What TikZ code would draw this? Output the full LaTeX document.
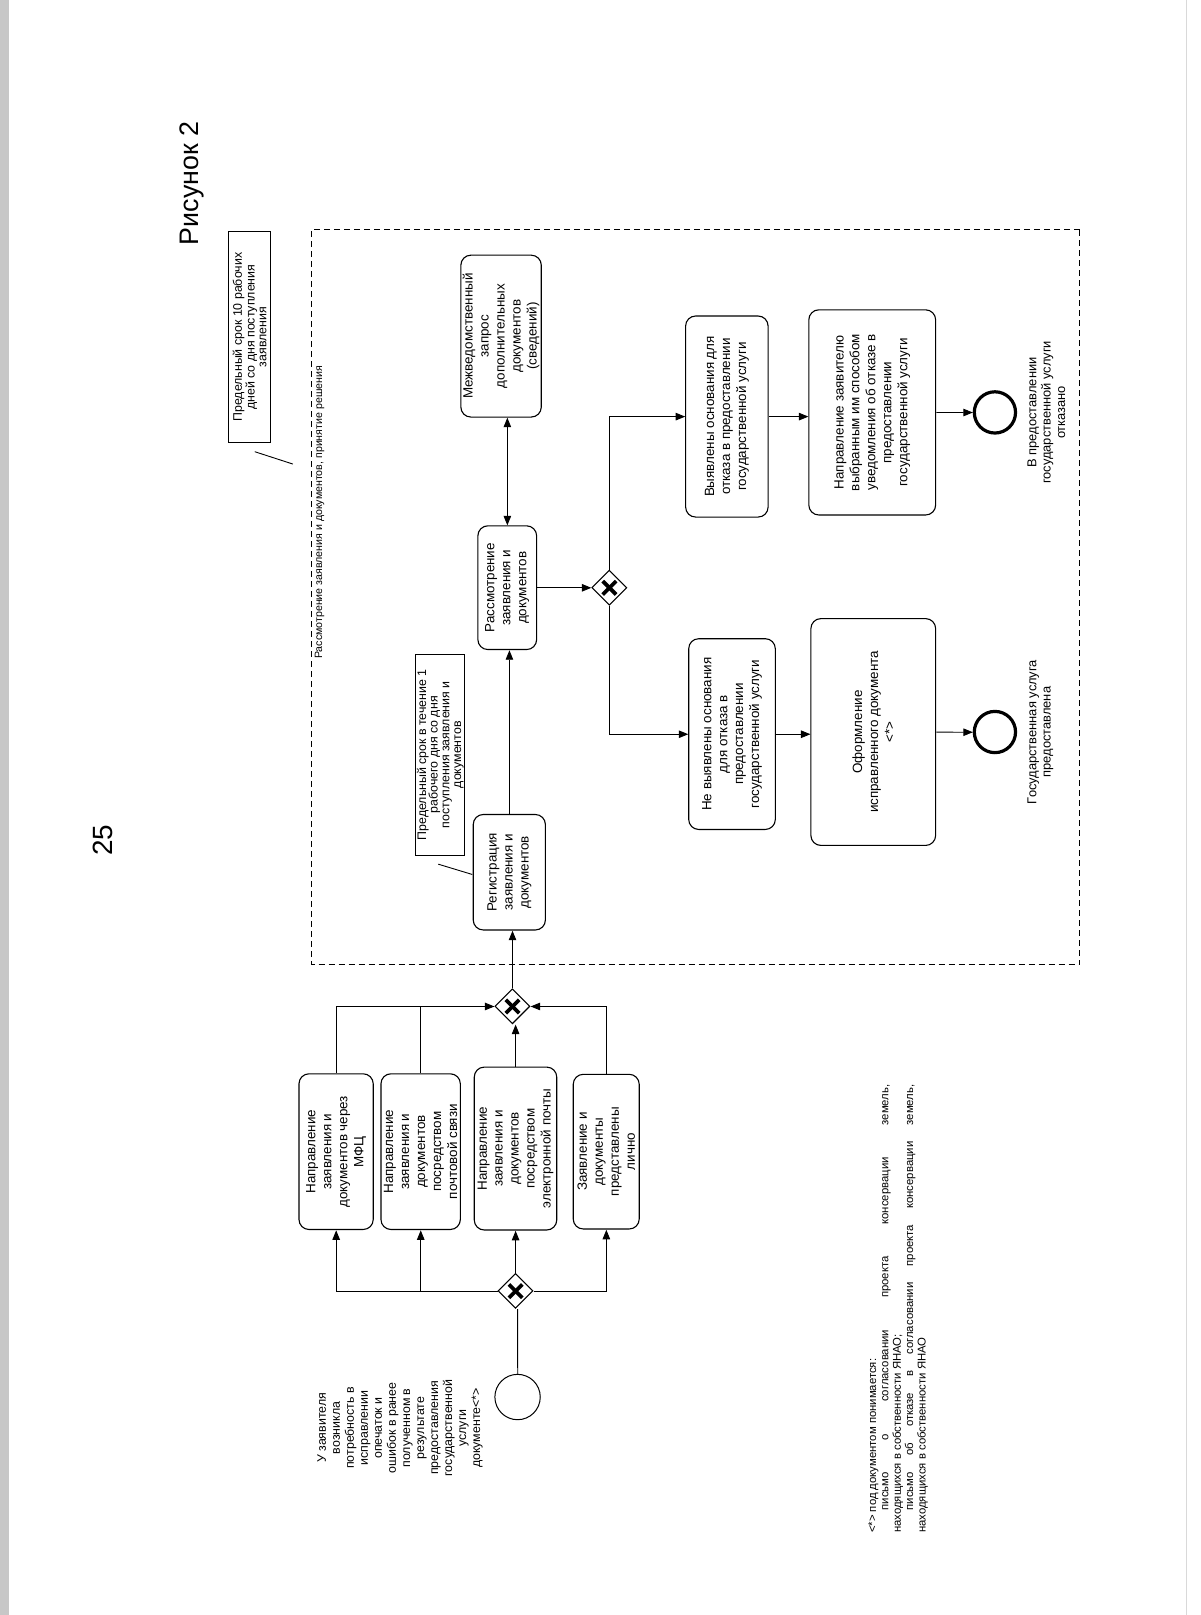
\documentclass[tikz,border=0pt]{standalone}
\usepackage{fontspec}
\setmainfont{Liberation Sans}
\usetikzlibrary{arrows.meta,shapes.geometric}
\begin{document}
\begin{tikzpicture}[x=1pt,y=-1pt,
  box/.style={draw, rounded corners=10pt, rotate=90, align=center, line width=1.1pt, inner sep=0pt, font=\fontsize{13}{15.5}\selectfont},
  note/.style={draw, rotate=90, align=center, line width=0.9pt, inner sep=1pt, font=\fontsize{12}{11.3}\selectfont},
  gw/.style={diamond, draw, line width=1.1pt, minimum size=34pt, inner sep=0pt},
  xmark/.style={line width=3.8pt},
  arr/.style={-{Triangle[length=9.5pt,width=7.5pt]}, line width=0.9pt},
  arrr/.style={{Triangle[length=9.5pt,width=7.5pt]}-{Triangle[length=9.5pt,width=7.5pt]}, line width=0.9pt},
  conn/.style={line width=0.9pt},
  lbl/.style={rotate=90, align=center, font=\fontsize{12.5}{14}\selectfont},
  startev/.style={circle, draw, line width=1pt, minimum size=44pt, inner sep=0pt},
  endev/.style={circle, draw, line width=3.2pt, minimum size=40pt, inner sep=0pt},
]
\useasboundingbox (0,0) rectangle (1200,1615);
\fill[black!22] (0,0) rectangle (9,1615);
\draw[black!15, line width=1pt] (1186,0) -- (1186,1615);

\begin{scope}[scale=1.031, transform shape]
% headings
\node[rotate=90, font=\fontsize{27}{31}\selectfont] (pg) at (100,815) {25};
\node[rotate=90, font=\fontsize{26}{30}\selectfont] (fig) at (186,178) {Рисунок 2};

% dashed area
\node[draw, dash pattern=on 6pt off 4pt, line width=1pt, minimum width=745pt, minimum height=713pt, anchor=north west, inner sep=0pt] (area) at (302,222) {};
\node[rotate=90, font=\fontsize{10.3}{12}\selectfont] (arealbl) at (310,497) {Рассмотрение заявления и документов, принятие решения};

% notes
\node[note, minimum width=205pt, minimum height=40pt] (note1) at (242,327) {Предельный срок 10 рабочих\\ дней со дня поступления\\ заявления};
\coordinate (n1a) at (247,438);
\coordinate (n1b) at (284,450);
\draw[conn] (n1a) -- (n1b);
\node[note, minimum width=195pt, minimum height=45pt] (note2) at (427,732) {Предельный срок в течение 1\\ рабочего дня со дня\\ поступления заявления и\\ документов};
\coordinate (n2a) at (425,838);
\coordinate (n2b) at (458,848);
\draw[conn] (n2a) -- (n2b);

% start
\node[startev] (start) at (502,1355) {};
\node[lbl, font=\fontsize{12}{13.6}\selectfont] (starttxt) at (388,1385) {У заявителя\\ возникла\\ потребность в\\ исправлении\\ опечаток и\\ ошибок в ранее\\ полученном в\\ результате\\ предоставления\\ государственной\\ услуги\\ документе<*>};

\node[gw] (g1) at (500,1252) {};
\node[box, minimum width=151pt, minimum height=72pt] (b1) at (326,1117) {Направление\\ заявления и\\ документов через\\ МФЦ};
\node[box, minimum width=151pt, minimum height=77pt] (b2) at (408,1117) {Направление\\ заявления и\\ документов\\ посредством\\ почтовой связи};
\node[box, minimum width=158pt, minimum height=80pt] (b3) at (500,1114) {Направление\\ заявления и\\ документов\\ посредством\\ электронной почты};
\node[box, minimum width=150pt, minimum height=64pt] (b4) at (588,1117) {Заявление и\\ документы\\ представлены\\ лично};
\node[gw] (g2) at (497,976) {};

\node[box, minimum width=112pt, minimum height=70pt] (reg) at (494,846) {Регистрация\\ заявления и\\ документов};
\node[box, minimum width=120pt, minimum height=57pt] (ras) at (492,570) {Рассмотрение\\ заявления и\\ документов};
\node[box, minimum width=157pt, minimum height=78pt] (mez) at (486,326) {Межведомственный\\ запрос\\ дополнительных\\ документов\\ (сведений)};
\node[gw] (g3) at (591,570) {};

\node[box, minimum width=195pt, minimum height=80pt] (vyy) at (705,404) {Выявлены основания для\\ отказа в предоставлении\\ государственной услуги};
\node[box, minimum width=185pt, minimum height=84pt] (nev) at (710,712) {Не выявлены основания\\ для отказа в\\ предоставлении\\ государственной услуги};
\node[box, minimum width=199pt, minimum height=123pt] (napr) at (846,400) {Направление заявителю\\ выбранным им способом\\ уведомления об отказе в\\ предоставлении\\ государственной услуги};
\node[box, minimum width=220pt, minimum height=121pt] (ofor) at (847,710) {Оформление\\ исправленного документа\\ <*>};
\node[endev] (e1) at (965,400) {};
\node[endev] (e2) at (965,710) {};
\node[lbl, anchor=north] (e1t) at (993,400) {В предоставлении\\ государственной услуги\\ отказано};
\node[lbl, anchor=north] (e2t) at (993,710) {Государственная услуга\\ предоставлена};

% gateway crosses
\foreach \g in {g1,g2,g3}{
  \draw[xmark] ([shift={(-6.5,-6.5)}]\g.center) -- ([shift={(6.5,6.5)}]\g.center);
  \draw[xmark] ([shift={(-6.5,6.5)}]\g.center) -- ([shift={(6.5,-6.5)}]\g.center);
}

% connectors
\draw[conn] (start) -- (start |- g1.south);
\draw[arr] (g1.west) -| (b1.west);
\draw[arr] (g1.west) -| (b2.west);
\draw[arr] (g1.north) -- (b3.west);
\draw[arr] (g1.east) -| (b4.west);
\draw[arr] (b1.east) |- (g2.west);
\draw[conn] (b2.east) |- (g2.west);
\draw[arr] (b3.east) -- (b3.east |- g2.south);
\draw[arr] (b4.east) |- (g2.east);
\draw[arr] (g2.north) -- (g2.north |- reg.west);
\draw[arr] (reg.east) -- (reg.east |- ras.west);
\draw[arrr] (ras.east) -- (ras.east |- mez.west);
\draw[arr] (ras.south) -- (g3.west);
\draw[arr] (g3.north) |- (vyy.north);
\draw[arr] (g3.south) |- (nev.north);
\draw[arr] (vyy.south) -- (vyy.south -| napr.north);
\draw[arr] (nev.south) -- (nev.south -| ofor.north);
\draw[arr] (napr.south) -- (e1);
\draw[arr] (ofor.south) -- (e2);

% footnote
\node[rotate=90, anchor=north west, inner sep=0pt, font=\fontsize{11}{12}\selectfont] (foot) at (842,1487) {\parbox{435pt}{<*> под документом понимается:\\
\hspace*{22pt}письмо\hfill о\hfill согласовании\hfill проекта\hfill консервации\hfill земель,\\
находящихся в собственности ЯНАО;\\
\hspace*{22pt}письмо\hfill об\hfill отказе\hfill в\hfill согласовании\hfill проекта\hfill консервации\hfill земель,\\
находящихся в собственности ЯНАО}};
\end{scope}
\end{tikzpicture}
\end{document}
